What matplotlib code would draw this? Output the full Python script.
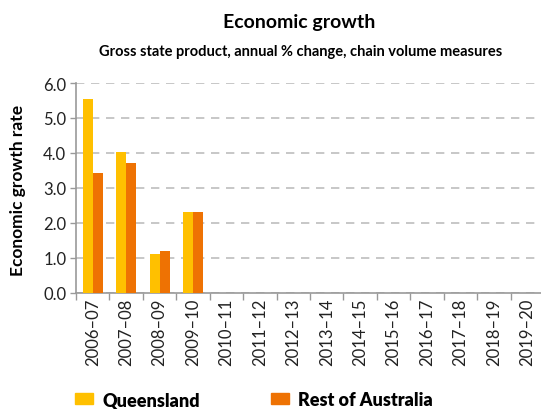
import matplotlib
matplotlib.use('Agg')
import matplotlib.pyplot as plt
import numpy as np
from matplotlib.patches import Patch

plt.rcParams['font.family'] = ['Lato', 'DejaVu Sans']

years = ['2006\u201307', '2007\u201308', '2008\u201309', '2009\u201310', '2010\u201311',
         '2011\u201312', '2012\u201313', '2013\u201314', '2014\u201315', '2015\u201316',
         '2016\u201317', '2017\u201318', '2018\u201319', '2019\u201320']
queensland = [5.55, 4.02, 1.1, 2.3]
rest_of_aus = [3.42, 3.7, 1.2, 2.3]

qld_col = '#FFC000'
rest_col = '#EE7203'

fig = plt.figure(figsize=(5.41, 4.10), dpi=100)
ax = fig.add_axes([0.1405, 0.284, 0.8595, 0.511])

x = np.arange(len(queensland))
w = 0.3
ax.bar(x - w / 2, queensland, w, color=qld_col, zorder=3)
ax.bar(x + w / 2, rest_of_aus, w, color=rest_col, zorder=3)

ax.set_xlim(-0.5, 13.41)
ax.set_ylim(0, 6)
ax.set_yticks(np.arange(0, 6.1, 1))
ax.set_yticklabels(['%.1f' % v for v in np.arange(0, 6.1, 1)], fontsize=12, color='#222222')
ax.yaxis.grid(True, linestyle=(0, (5, 4)), color='#BDBDBD', linewidth=1.2, zorder=0)

ax.set_xticks(np.arange(len(years)))
ax.set_xticklabels(years, rotation=90, fontsize=12, color='#222222')
ax.set_xticks(np.arange(len(years)) - 0.5, minor=True)
ax.tick_params(axis='x', which='major', length=0, pad=4)
ax.tick_params(axis='x', which='minor', length=5, color='#999999', width=1)
ax.tick_params(axis='y', length=4, color='#999999', width=1, pad=3)

for s in ['top', 'right']:
    ax.spines[s].set_visible(False)
for s in ['left', 'bottom']:
    ax.spines[s].set_color('#999999')
    ax.spines[s].set_linewidth(1.2)

fig.text(0.034, 0.535, 'Economic growth rate', rotation=90, ha='center', va='center',
         fontsize=12.5, fontweight='bold')
fig.text(0.553, 0.945, 'Economic growth', ha='center', va='center', fontsize=14, fontweight='bold')
fig.text(0.555, 0.872, 'Gross state product, annual % change, chain volume measures',
         ha='center', va='center', fontsize=10.5, fontweight='bold')

# two separate legends so each item sits where the reference puts it
for color, label, xpos in [(qld_col, 'Queensland', 0.138), (rest_col, 'Rest of Australia', 0.5)]:
    fig.legend([Patch(color=color)], [label], loc='center left',
               bbox_to_anchor=(xpos, 0.023), frameon=False,
               handlelength=1.0, handleheight=0.6, handletextpad=0.55,
               borderpad=0, borderaxespad=0,
               prop={'size': 13, 'weight': 'heavy'})

fig.savefig('out.png', dpi=100)
